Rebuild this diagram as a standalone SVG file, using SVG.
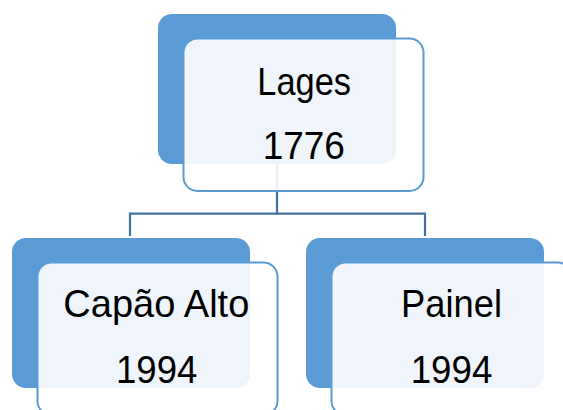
<svg xmlns="http://www.w3.org/2000/svg" width="563" height="410" viewBox="0 0 563 410">
<style>
.back{fill:#5B9BD5;}
.front{fill:#ffffff;fill-opacity:0.9;stroke:#5B9BD5;stroke-width:2;}
.conn{fill:none;stroke:#41719C;stroke-width:2.2;}
.lbl{font-family:"Liberation Sans",Arial,sans-serif;font-size:38.5px;fill:#000000;text-anchor:middle;}
</style>
<rect width="563" height="410" fill="#ffffff"/>
<g id="connectors">
<path class="conn" d="M277 164 V213.7 M130 236 V213.7 H425 V236"/>
</g>
<g id="node-lages">
<rect class="back" x="158" y="14" width="238" height="150" rx="14"/>
<rect class="front" x="183.5" y="38.5" width="240" height="152.5" rx="14"/>
<text class="lbl" x="304.2" y="95" textLength="93.7" lengthAdjust="spacingAndGlyphs">Lages</text>
<text class="lbl" x="303.8" y="159.3" textLength="82.3" lengthAdjust="spacingAndGlyphs">1776</text>
</g>
<g id="node-capao-alto">
<rect class="back" x="12" y="238" width="238" height="150" rx="14"/>
<rect class="front" x="37.5" y="262.5" width="240" height="152.5" rx="14"/>
<text class="lbl" x="156.3" y="317.3" textLength="186" lengthAdjust="spacingAndGlyphs">Capão Alto</text>
<text class="lbl" x="156.7" y="382.7" textLength="81.3" lengthAdjust="spacingAndGlyphs">1994</text>
</g>
<g id="node-painel">
<rect class="back" x="306" y="238" width="238" height="150" rx="14"/>
<rect class="front" x="331.5" y="262.5" width="240" height="152.5" rx="14"/>
<text class="lbl" x="451.5" y="317.3" textLength="101" lengthAdjust="spacingAndGlyphs">Painel</text>
<text class="lbl" x="451.5" y="382.7" textLength="81.6" lengthAdjust="spacingAndGlyphs">1994</text>
</g>
</svg>
